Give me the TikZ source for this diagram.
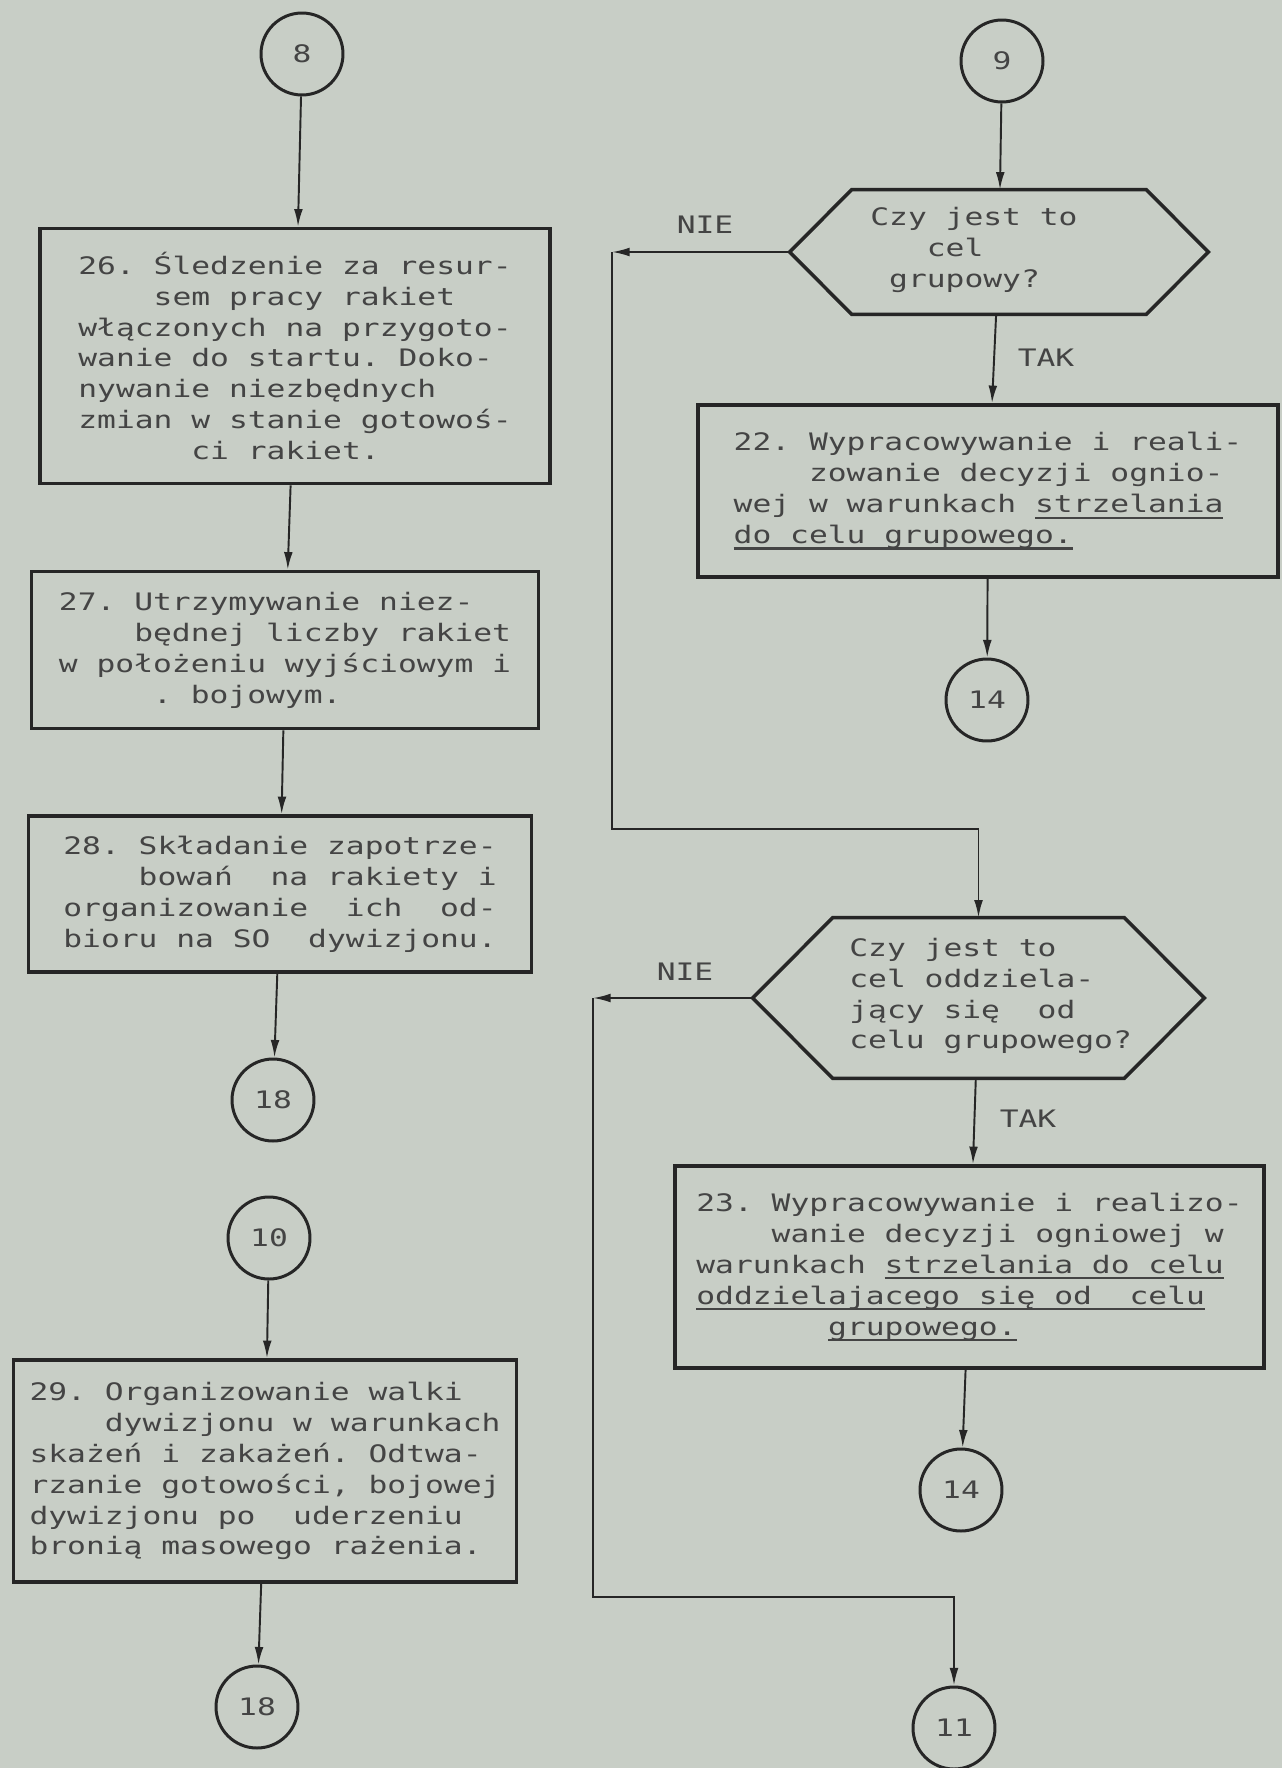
\documentclass[tikz,border=0pt]{standalone}
\usepackage{fontspec}
\newfontfamily\maszyna[FakeStretch=1.3]{DejaVu Sans Mono}
\usetikzlibrary{arrows.meta}
\definecolor{papier}{RGB}{200,206,198}
\definecolor{tusz}{RGB}{38,38,38}
\definecolor{tasma}{RGB}{68,68,68}
\tikzset{blok/.style={rectangle, draw=tusz, line width=2.1pt, align=left, inner sep=0pt}}
\tikzset{lacznik/.style={circle, draw=tusz, line width=1.7pt, minimum size=1.64cm, inner sep=0pt}}
\tikzset{pytanie/.style={rectangle, inner sep=0pt}}
\tikzset{szesciokat/.style={draw=tusz, line width=2pt, line join=miter}}
\tikzset{linia/.style={draw=tusz, line width=1.1pt}}
\tikzset{strz/.style={linia, -{Latex[length=10pt,width=5pt]}}}
\newcommand{\wciecie}[1]{\mbox{}\hphantom{#1}}
\newcommand{\podkresl}[1]{\leavevmode\setbox0=\hbox{#1}\rlap{\rule[-3.4pt]{\wd0}{1.2pt}}\box0}

\begin{document}
\begin{tikzpicture}[x=0.02cm, y=-0.02cm, font=\maszyna\fontsize{13.7}{17.6}\selectfont\frenchspacing, text=tasma]
    \fill[papier] (0,0) rectangle (1282,1768);
    \useasboundingbox (0,0) rectangle (1282,1768);

    \node [lacznik](c8) at (302,54) {8};
    \node [blok, minimum width=10.2cm, minimum height=5.1cm](b26) at (295,356) {26. Śledzenie za resur-\\
\wciecie{0000}sem pracy rakiet\\
włączonych na przygoto-\\
wanie do startu. Doko-\\
nywanie niezbędnych\\
zmian w stanie gotowoś-\\
\wciecie{000000}ci rakiet.};
    \node [blok, minimum width=10.14cm, minimum height=3.14cm](b27) at (285,650) {27. Utrzymywanie niez-\\
\wciecie{0000}będnej liczby rakiet\\
w położeniu wyjściowym i\\
\wciecie{00000}. bojowym.};
    \node [blok, minimum width=10.06cm, minimum height=3.12cm](b28) at (280,894) {28. Składanie zapotrze-\\
\wciecie{0000}bowań\ \ na rakiety i\\
organizowanie\ \ ich\ \ od-\\
bioru na SO\ \ dywizjonu.};
    \node [lacznik](c18a) at (273,1100) {18};
    \node [lacznik](c10) at (269,1238) {10};
    \node [blok, minimum width=10.06cm, minimum height=4.44cm](b29) at (265,1471) {29. Organizowanie walki\\
\wciecie{0000}dywizjonu w warunkach\\
skażeń i zakażeń. Odtwa-\\
rzanie gotowości, bojowej\\
dywizjonu po\ \ uderzeniu\\
bronią masowego rażenia.};
    \node [lacznik](c18b) at (257,1707) {18};

    \node [lacznik](c9) at (1002,61) {9};
    \node [pytanie, minimum width=5.88cm, minimum height=2.48cm](d1) at (999,252) {};
    \node [anchor=west, align=left, inner sep=0pt](d1t) at (870,250) {Czy jest to\\
\wciecie{000}cel\\
\wciecie{0}grupowy?};
    \node [blok, minimum width=11.6cm, minimum height=3.44cm](b22) at (988,491) {22. Wypracowywanie i reali-\\
\wciecie{0000}zowanie decyzji ognio-\\
wej w warunkach \podkresl{strzelania}\\
\podkresl{do celu grupowego.}};
    \node [lacznik](c14a) at (987,700) {14};
    \node [pytanie, minimum width=5.82cm, minimum height=3.2cm](d2) at (978.5,998) {};
    \node [anchor=west, align=left, inner sep=0pt](d2t) at (849,996) {Czy jest to\\
cel oddziela-\\
jący się\ \ od\\
celu grupowego?};
    \node [blok, minimum width=11.78cm, minimum height=4.04cm](b23) at (969.5,1267) {23. Wypracowywanie i realizo-\\
\wciecie{0000}wanie decyzji ogniowej w\\
warunkach \podkresl{strzelania do celu}\\
\podkresl{oddzielajacego się od\ \ celu}\\
\wciecie{0000000}\podkresl{grupowego.}};
    \node [lacznik](c14b) at (961,1490) {14};
    \node [lacznik](c11) at (954,1728) {11};

    \node [](nie1) at (705,225) {NIE};
    \node [](tak1) at (1046,358) {TAK};
    \node [](nie2) at (685,972) {NIE};
    \node [](tak2) at (1028,1119) {TAK};

    \draw[szesciokat] (d1.north west) -- (d1.north east) -- ([xshift=1.24cm]d1.east) -- (d1.south east) -- (d1.south west) -- ([xshift=-1.24cm]d1.west) -- cycle;
    \draw[szesciokat] (d2.north west) -- (d2.north east) -- ([xshift=1.6cm]d2.east) -- (d2.south east) -- (d2.south west) -- ([xshift=-1.6cm]d2.west) -- cycle;
    \coordinate (d1w) at ([xshift=-1.24cm]d1.west);
    \coordinate (d2w) at ([xshift=-1.6cm]d2.west);
    \coordinate (n1) at (612,252);
    \coordinate (m1) at (612,829);
    \coordinate (n2) at (593,998);
    \coordinate (m2) at (593,1597);

    \draw[strz] (c8) -- (b26);
    \draw[strz] (b26) -- (b27);
    \draw[strz] (b27) -- (b28);
    \draw[strz] (b28) -- (c18a);
    \draw[strz] (c10) -- (b29);
    \draw[strz] (b29) -- (c18b);
    \draw[strz] (c9) -- (d1);
    \draw[strz] (d1) -- (b22);
    \draw[strz] (b22) -- (c14a);
    \draw[strz] (d1w) -- (n1);
    \draw[strz] (n1) -- (m1) -| (d2);
    \draw[strz] (d2) -- (b23);
    \draw[strz] (b23) -- (c14b);
    \draw[strz] (d2w) -- (n2);
    \draw[strz] (n2) -- (m2) -| (c11);
\end{tikzpicture}
\end{document}
